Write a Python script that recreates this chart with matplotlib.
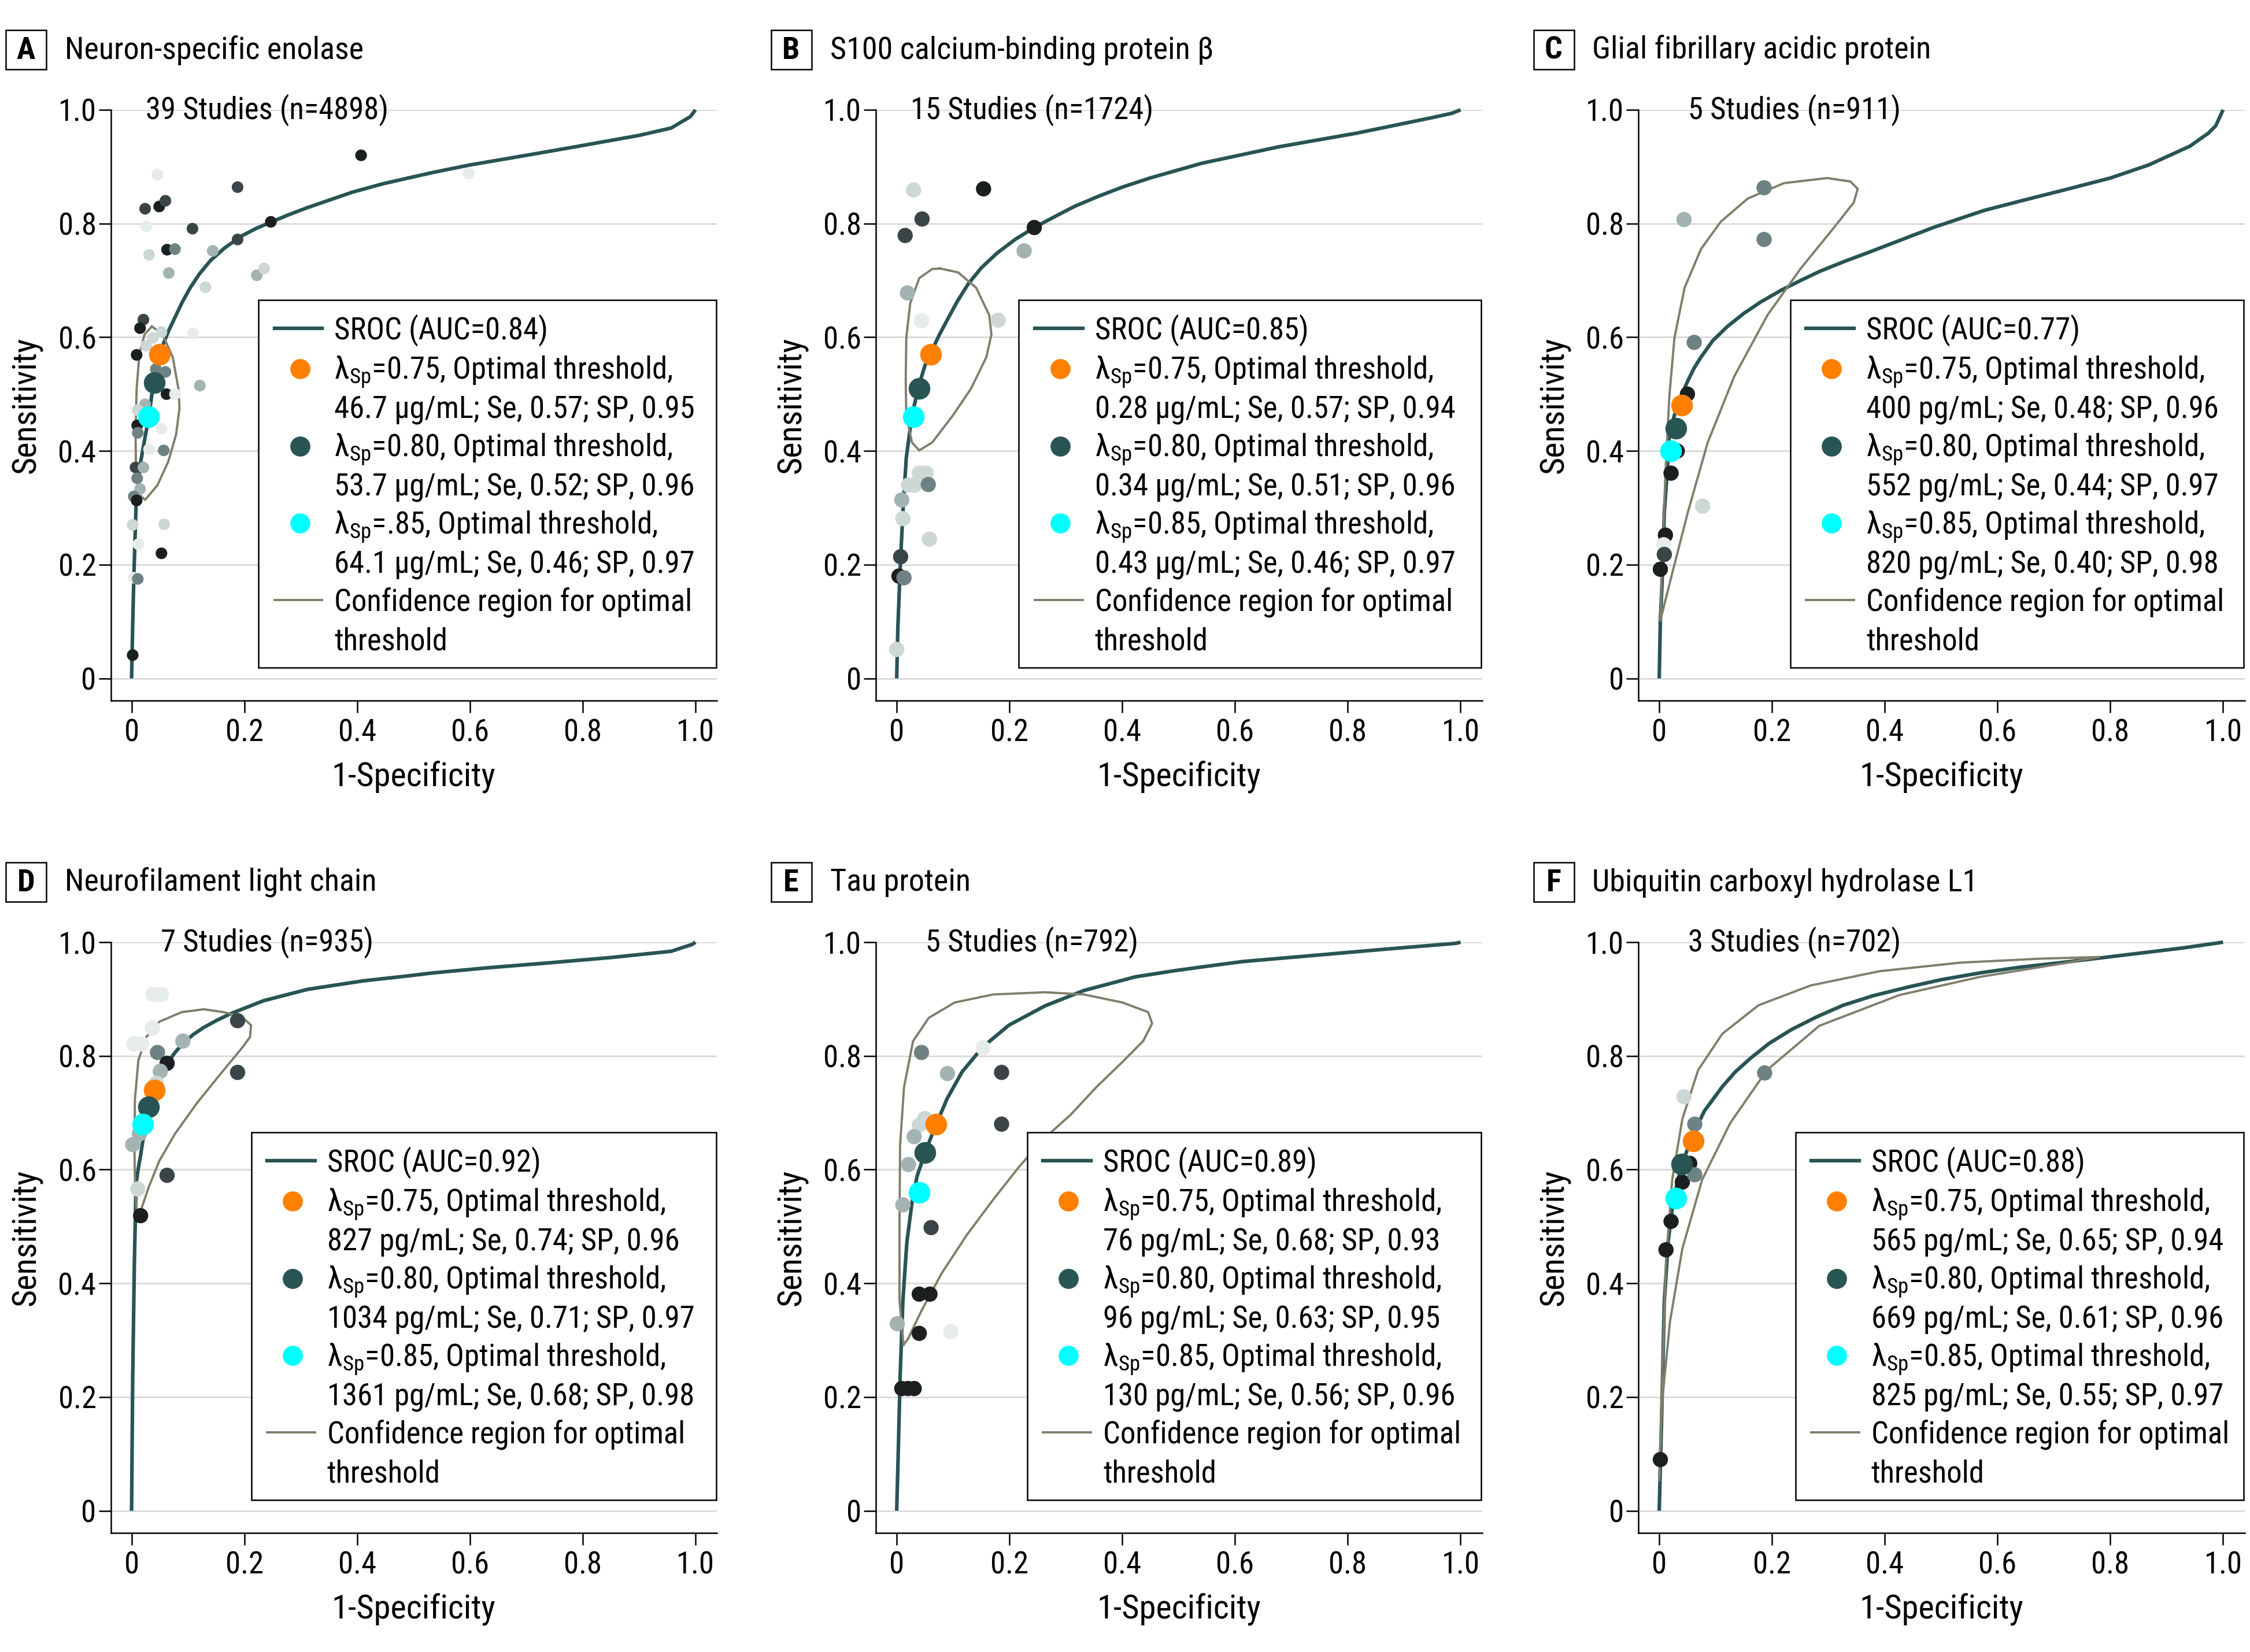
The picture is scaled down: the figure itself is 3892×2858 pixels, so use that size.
import matplotlib
matplotlib.use("Agg")
import matplotlib.pyplot as plt
from matplotlib import font_manager as fm
from matplotlib.patches import Rectangle

# ---- data ----
titles = ["Neuron-specific enolase", "S100 calcium-binding protein \u03b2",
          "Glial fibrillary acidic protein", "Neurofilament light chain",
          "Tau protein", "Ubiquitin carboxyl hydrolase L1"]
letters = ["A", "B", "C", "D", "E", "F"]
studies = ["39 Studies (n=4898)", "15 Studies (n=1724)", "5 Studies (n=911)",
           "7 Studies (n=935)", "5 Studies (n=792)", "3 Studies (n=702)"]
auc = ["0.84", "0.85", "0.77", "0.92", "0.89", "0.88"]
lam_labels = [["0.75", "0.80", ".85"]] + [["0.75", "0.80", "0.85"]] * 5
thr_labels = [
    ["46.7 \u00b5g/mL; Se, 0.57; SP, 0.95", "53.7 \u00b5g/mL; Se, 0.52; SP, 0.96", "64.1 \u00b5g/mL; Se, 0.46; SP, 0.97"],
    ["0.28 \u00b5g/mL; Se, 0.57; SP, 0.94", "0.34 \u00b5g/mL; Se, 0.51; SP, 0.96", "0.43 \u00b5g/mL; Se, 0.46; SP, 0.97"],
    ["400 pg/mL; Se, 0.48; SP, 0.96", "552 pg/mL; Se, 0.44; SP, 0.97", "820 pg/mL; Se, 0.40; SP, 0.98"],
    ["827 pg/mL; Se, 0.74; SP, 0.96", "1034 pg/mL; Se, 0.71; SP, 0.97", "1361 pg/mL; Se, 0.68; SP, 0.98"],
    ["76 pg/mL; Se, 0.68; SP, 0.93", "96 pg/mL; Se, 0.63; SP, 0.95", "130 pg/mL; Se, 0.56; SP, 0.96"],
    ["565 pg/mL; Se, 0.65; SP, 0.94", "669 pg/mL; Se, 0.61; SP, 0.96", "825 pg/mL; Se, 0.55; SP, 0.97"],
]
# optimal points (1-specificity, sensitivity) for lambda 0.75 / 0.80 / 0.85
opt_fpr = [[0.05, 0.04, 0.03], [0.06, 0.04, 0.03], [0.04, 0.03, 0.02],
           [0.04, 0.03, 0.02], [0.07, 0.05, 0.04], [0.06, 0.04, 0.03]]
opt_se = [[0.57, 0.52, 0.46], [0.57, 0.51, 0.46], [0.48, 0.44, 0.40],
          [0.74, 0.71, 0.68], [0.68, 0.63, 0.56], [0.65, 0.61, 0.55]]

# study points: x = 1-specificity, y = sensitivity, shade index 0 (dark) .. 5 (pale)
nse_x = [0.407, 0.188, 0.024, 0.049, 0.060, 0.046, 0.026, 0.108, 0.188, 0.247, 0.063, 0.077, 0.031,
         0.144, 0.066, 0.131, 0.222, 0.235, 0.021, 0.015, 0.109, 0.053, 0.038, 0.026, 0.009, 0.043,
         0.060, 0.062, 0.077, 0.121, 0.024, 0.011, 0.010, 0.011, 0.053, 0.031, 0.057, 0.007, 0.021,
         0.010, 0.015, 0.004, 0.009, 0.002, 0.058, 0.012, 0.053, 0.004, 0.011, 0.002, 0.598]
nse_y = [0.920, 0.864, 0.826, 0.830, 0.840, 0.886, 0.795, 0.791, 0.772, 0.803, 0.754, 0.755, 0.745,
         0.752, 0.713, 0.688, 0.709, 0.721, 0.631, 0.616, 0.607, 0.609, 0.599, 0.585, 0.569, 0.544,
         0.539, 0.500, 0.500, 0.515, 0.482, 0.472, 0.445, 0.432, 0.439, 0.403, 0.401, 0.371, 0.371,
         0.352, 0.333, 0.320, 0.313, 0.270, 0.271, 0.236, 0.220, 0.177, 0.175, 0.041, 0.888]
nse_c = [0, 1, 1, 0, 1, 5, 5, 1, 1, 0, 0, 2, 4, 3, 3, 4, 3, 4, 1, 0, 5, 4, 4, 4, 0, 2,
         2, 0, 5, 3, 3, 4, 0, 2, 5, 5, 2, 1, 3, 2, 3, 2, 0, 4, 4, 5, 0, 5, 2, 0, 5]

s100_x = [0.030, 0.154, 0.045, 0.015, 0.244, 0.226, 0.019, 0.044, 0.180, 0.040, 0.052, 0.021,
          0.032, 0.056, 0.009, 0.011, 0.007, 0.004, 0.013, 0.058, 0.000]
s100_y = [0.859, 0.861, 0.808, 0.779, 0.793, 0.752, 0.678, 0.629, 0.630, 0.361, 0.361, 0.340,
          0.340, 0.341, 0.314, 0.281, 0.214, 0.180, 0.177, 0.245, 0.051]
s100_c = [4, 0, 1, 1, 0, 3, 3, 5, 4, 4, 4, 4, 4, 2, 3, 4, 1, 0, 2, 4, 4]

gfap_x = [0.186, 0.044, 0.186, 0.062, 0.050, 0.032, 0.021, 0.077, 0.011, 0.008, 0.009, 0.002]
gfap_y = [0.863, 0.807, 0.772, 0.591, 0.500, 0.400, 0.361, 0.303, 0.252, 0.235, 0.218, 0.192]
gfap_c = [2, 3, 2, 2, 0, 0, 0, 4, 0, 5, 1, 0]

nfl_x = [0.038, 0.053, 0.037, 0.004, 0.018, 0.188, 0.091, 0.046, 0.063, 0.051, 0.044, 0.188,
         0.014, 0.002, 0.063, 0.011, 0.016]
nfl_y = [0.908, 0.908, 0.849, 0.821, 0.821, 0.862, 0.826, 0.806, 0.787, 0.773, 0.752, 0.771,
         0.663, 0.644, 0.590, 0.566, 0.519]
nfl_c = [5, 5, 5, 5, 5, 1, 3, 2, 0, 3, 4, 1, 3, 3, 1, 4, 0]

tau_x = [0.044, 0.153, 0.090, 0.186, 0.050, 0.040, 0.031, 0.186, 0.021, 0.011, 0.061, 0.040,
         0.059, 0.001, 0.040, 0.096, 0.009, 0.020, 0.031]
tau_y = [0.806, 0.814, 0.769, 0.771, 0.690, 0.678, 0.658, 0.680, 0.609, 0.538, 0.498, 0.381,
         0.381, 0.329, 0.312, 0.315, 0.215, 0.215, 0.215]
tau_c = [2, 5, 3, 1, 4, 4, 3, 1, 3, 3, 1, 0, 0, 3, 0, 5, 0, 0, 0]

uchl_x = [0.044, 0.063, 0.187, 0.054, 0.041, 0.063, 0.021, 0.012, 0.002]
uchl_y = [0.728, 0.680, 0.770, 0.611, 0.578, 0.591, 0.509, 0.459, 0.090]
uchl_c = [4, 2, 2, 0, 0, 2, 0, 0, 0]

# SROC curves, traced
nse_sroc_x = [0, 0.002, 0.004, 0.008, 0.016, 0.025, 0.031, 0.038, 0.049, 0.057, 0.066, 0.077, 0.090,
              0.104, 0.120, 0.140, 0.165, 0.195, 0.220, 0.246, 0.280, 0.312, 0.391, 0.446, 0.535,
              0.600, 0.700, 0.787, 0.900, 0.957, 0.991, 1.0]
nse_sroc_y = [0, 0.095, 0.177, 0.306, 0.380, 0.430, 0.462, 0.515, 0.565, 0.590, 0.612, 0.635, 0.662,
              0.687, 0.711, 0.735, 0.757, 0.778, 0.791, 0.802, 0.816, 0.828, 0.855, 0.870, 0.890,
              0.903, 0.920, 0.935, 0.955, 0.968, 0.988, 1.0]
s100_sroc_x = [0, 0.002, 0.006, 0.011, 0.017, 0.027, 0.040, 0.050, 0.063, 0.076, 0.091, 0.108,
               0.127, 0.150, 0.178, 0.210, 0.244, 0.280, 0.315, 0.358, 0.400, 0.449, 0.541, 0.678,
               0.816, 0.953, 0.985, 1.0]
s100_sroc_y = [0, 0.088, 0.190, 0.293, 0.388, 0.463, 0.517, 0.550, 0.578, 0.605, 0.633, 0.664,
               0.694, 0.722, 0.748, 0.772, 0.793, 0.812, 0.830, 0.848, 0.864, 0.880, 0.906, 0.935,
               0.959, 0.987, 0.994, 1.0]
gfap_sroc_x = [0, 0.002, 0.006, 0.009, 0.014, 0.018, 0.027, 0.039, 0.051, 0.062, 0.074, 0.095,
               0.121, 0.150, 0.180, 0.215, 0.251, 0.285, 0.330, 0.368, 0.431, 0.486, 0.576, 0.650,
               0.722, 0.800, 0.868, 0.941, 0.974, 0.987, 0.994, 1.0]
gfap_sroc_y = [0, 0.102, 0.190, 0.293, 0.361, 0.429, 0.463, 0.497, 0.524, 0.546, 0.565, 0.594,
               0.619, 0.642, 0.662, 0.682, 0.700, 0.716, 0.734, 0.748, 0.772, 0.793, 0.823, 0.842,
               0.860, 0.880, 0.903, 0.936, 0.959, 0.972, 0.987, 1.0]
nfl_sroc_x = [0, 0.002, 0.005, 0.008, 0.012, 0.016, 0.022, 0.028, 0.036, 0.046, 0.063, 0.077,
              0.093, 0.110, 0.128, 0.150, 0.175, 0.234, 0.312, 0.411, 0.484, 0.535, 0.632, 0.732,
              0.850, 0.957, 0.994, 1.0]
nfl_sroc_y = [0, 0.234, 0.438, 0.575, 0.603, 0.625, 0.664, 0.697, 0.728, 0.756, 0.786, 0.806,
              0.824, 0.838, 0.850, 0.862, 0.874, 0.897, 0.917, 0.932, 0.940, 0.946, 0.955, 0.963,
              0.973, 0.984, 0.996, 1.0]
tau_sroc_x = [0, 0.003, 0.006, 0.011, 0.018, 0.027, 0.036, 0.050, 0.066, 0.089, 0.116, 0.153,
              0.199, 0.263, 0.332, 0.423, 0.494, 0.538, 0.614, 0.743, 0.870, 0.992, 1.0]
tau_sroc_y = [0, 0.112, 0.234, 0.370, 0.472, 0.541, 0.588, 0.629, 0.670, 0.724, 0.772, 0.816,
              0.854, 0.888, 0.915, 0.939, 0.950, 0.956, 0.966, 0.977, 0.988, 0.998, 1.0]
uchl_sroc_x = [0, 0.004, 0.009, 0.016, 0.026, 0.041, 0.059, 0.080, 0.112, 0.135, 0.162, 0.195,
               0.234, 0.280, 0.326, 0.380, 0.441, 0.500, 0.569, 0.640, 0.712, 0.780, 0.855, 0.930, 1.0]
uchl_sroc_y = [0, 0.154, 0.368, 0.475, 0.553, 0.611, 0.660, 0.703, 0.746, 0.772, 0.796, 0.822,
               0.846, 0.869, 0.889, 0.906, 0.921, 0.934, 0.946, 0.956, 0.964, 0.972, 0.981, 0.990, 1.0]

# confidence regions for the optimal threshold, traced
nse_cr_x = [0.036, 0.055, 0.073, 0.083, 0.085, 0.079, 0.065, 0.046, 0.024, 0.014, 0.008, 0.007,
            0.009, 0.014, 0.023, 0.036]
nse_cr_y = [0.619, 0.605, 0.565, 0.510, 0.476, 0.429, 0.381, 0.340, 0.314, 0.323, 0.361, 0.429,
            0.510, 0.571, 0.605, 0.619]
s100_cr_x = [0.077, 0.109, 0.141, 0.164, 0.168, 0.159, 0.132, 0.100, 0.063, 0.040, 0.027, 0.017,
             0.016, 0.017, 0.024, 0.040, 0.063, 0.077]
s100_cr_y = [0.721, 0.714, 0.687, 0.639, 0.605, 0.565, 0.510, 0.463, 0.415, 0.401, 0.415, 0.463,
             0.524, 0.599, 0.660, 0.704, 0.720, 0.721]
gfap_cr_x = [0.002, 0.006, 0.011, 0.018, 0.027, 0.045, 0.074, 0.109, 0.157, 0.221, 0.298, 0.339,
             0.352, 0.345, 0.310, 0.251, 0.192, 0.133, 0.086, 0.051, 0.021, 0.002]
gfap_cr_y = [0.102, 0.224, 0.361, 0.497, 0.599, 0.687, 0.755, 0.803, 0.844, 0.871, 0.880, 0.874,
             0.861, 0.837, 0.793, 0.721, 0.639, 0.531, 0.415, 0.293, 0.177, 0.102]
nfl_cr_x = [0.010, 0.006, 0.005, 0.006, 0.012, 0.026, 0.049, 0.089, 0.128, 0.163, 0.195, 0.212,
            0.210, 0.195, 0.155, 0.116, 0.077, 0.049, 0.030, 0.016, 0.010]
nfl_cr_y = [0.513, 0.575, 0.643, 0.724, 0.792, 0.833, 0.860, 0.877, 0.882, 0.877, 0.869, 0.854,
            0.833, 0.813, 0.765, 0.717, 0.663, 0.615, 0.568, 0.527, 0.513]
tau_cr_x = [0.012, 0.005, 0.005, 0.006, 0.013, 0.029, 0.057, 0.103, 0.171, 0.263, 0.332, 0.400,
            0.446, 0.453, 0.437, 0.400, 0.354, 0.309, 0.263, 0.217, 0.171, 0.125, 0.080, 0.043,
            0.020, 0.012]
tau_cr_y = [0.292, 0.370, 0.506, 0.643, 0.745, 0.826, 0.867, 0.894, 0.908, 0.912, 0.908, 0.894,
            0.877, 0.857, 0.826, 0.789, 0.745, 0.697, 0.656, 0.605, 0.547, 0.486, 0.418, 0.350,
            0.302, 0.292]
uchl_cr_x = [0.0, 0.005, 0.012, 0.023, 0.041, 0.069, 0.112, 0.176, 0.269, 0.391, 0.534, 0.676,
             0.780, 0.712, 0.569, 0.426, 0.284, 0.191, 0.126, 0.076, 0.041, 0.019, 0.005, 0.0]
uchl_cr_y = [0.054, 0.225, 0.439, 0.582, 0.689, 0.775, 0.839, 0.889, 0.924, 0.949, 0.964, 0.971,
             0.974, 0.962, 0.939, 0.907, 0.853, 0.775, 0.682, 0.582, 0.461, 0.332, 0.190, 0.054]

pts_x = [nse_x, s100_x, gfap_x, nfl_x, tau_x, uchl_x]
pts_y = [nse_y, s100_y, gfap_y, nfl_y, tau_y, uchl_y]
pts_c = [nse_c, s100_c, gfap_c, nfl_c, tau_c, uchl_c]
sroc_x = [nse_sroc_x, s100_sroc_x, gfap_sroc_x, nfl_sroc_x, tau_sroc_x, uchl_sroc_x]
sroc_y = [nse_sroc_y, s100_sroc_y, gfap_sroc_y, nfl_sroc_y, tau_sroc_y, uchl_sroc_y]
cr_x = [nse_cr_x, s100_cr_x, gfap_cr_x, nfl_cr_x, tau_cr_x, uchl_cr_x]
cr_y = [nse_cr_y, s100_cr_y, gfap_cr_y, nfl_cr_y, tau_cr_y, uchl_cr_y]

# ---- style ----
names = {f.name for f in fm.fontManager.ttflist}
FONT = "DejaVu Sans"
for cand in ["Liberation Sans Narrow", "Roboto Condensed", "Open Sans Condensed", "Liberation Sans"]:
    if cand in names:
        FONT = cand
        break
plt.rcParams["font.family"] = [FONT, "DejaVu Sans"]

SHADES = ["#1b1f1f", "#3b4547", "#6f8283", "#a3b3b2", "#cdd7d6", "#e6ecea"]
SROC_C = "#285454"
CR_C = "#807e6c"
OPT_C = ["#ff8000", "#285454", "#00ffff"]
GRID_C = "#d9d9d9"
FS = 38

W, H = 3892, 2858
col_left = [191.5, 1515, 2834]
row_top = [190, 1630]
ax_w, ax_h = 1048.5, 1022
legend_left = [0.244, 0.236, 0.251, 0.232, 0.250, 0.259]
row_y = [0.630, 0.562, 0.496, 0.431, 0.365, 0.300, 0.234, 0.170, 0.104]
pt_size = [14.5, 19, 19, 19, 19, 19]

fig = plt.figure(figsize=(W / 100, H / 100), dpi=100)

for i in range(6):
    r, c = divmod(i, 3)
    L, T = col_left[c], row_top[r]
    ax = fig.add_axes([L / W, 1 - (T + ax_h) / H, ax_w / W, ax_h / H])
    ax.set_xlim(-0.037, 1.038)
    ax.set_ylim(-0.039, 1.0)
    for s in ["top", "right"]:
        ax.spines[s].set_visible(False)
    for s in ["left", "bottom"]:
        ax.spines[s].set_linewidth(1.8)
    ticks = [0, 0.2, 0.4, 0.6, 0.8, 1.0]
    tlabels = ["0", "0.2", "0.4", "0.6", "0.8", "1.0"]
    ax.set_xticks(ticks)
    ax.set_xticklabels(tlabels)
    ax.set_yticks(ticks)
    ax.set_yticklabels(tlabels)
    ax.tick_params(axis="both", length=15, width=1.8, labelsize=FS)
    ax.tick_params(axis="x", pad=7)
    ax.tick_params(axis="y", pad=3)
    ax.yaxis.grid(True, color=GRID_C, linewidth=2)
    ax.set_axisbelow(True)
    ax.set_xlabel("1-Specificity", fontsize=42, labelpad=16)
    ax.set_ylabel("Sensitivity", fontsize=42, labelpad=19)

    ax.plot(sroc_x[i], sroc_y[i], color=SROC_C, lw=4.5, zorder=3, clip_on=False,
            solid_capstyle="butt", solid_joinstyle="round")
    ax.plot(cr_x[i], cr_y[i], color=CR_C, lw=2.8, zorder=3, solid_joinstyle="round")
    ax.scatter(pts_x[i], pts_y[i], s=pt_size[i] ** 2, c=[SHADES[k] for k in pts_c[i]],
               linewidths=0, zorder=4)
    for k in range(3):
        ax.plot(opt_fpr[i][k], opt_se[i][k], "o", ms=27, color=OPT_C[k], mec="none", zorder=5)

    ax.text(0.24, 1.0, studies[i], fontsize=FS, ha="center", va="center", zorder=2)

    # legend drawn by hand so that the markers sit on the first line of each entry
    bl = legend_left[i]
    ax.add_patch(Rectangle((bl, 0.056), 0.999 - bl, 0.678 - 0.056, transform=ax.transAxes,
                           facecolor="white", edgecolor="black", lw=1.8, zorder=10, clip_on=False))
    labels = ["SROC (AUC=" + auc[i] + ")"]
    for k in range(3):
        labels.append("\u03bb$_\\mathregular{Sp}$=" + lam_labels[i][k] + ", Optimal threshold,")
        labels.append(thr_labels[i][k])
    labels += ["Confidence region for optimal", "threshold"]
    for j, lab in enumerate(labels):
        ax.text(bl + 0.125, row_y[j] - 0.0185, lab, transform=ax.transAxes, fontsize=FS,
                ha="left", va="baseline", zorder=11)
    ax.plot([bl + 0.026, bl + 0.105], [row_y[0]] * 2, color=SROC_C, lw=4.5,
            transform=ax.transAxes, zorder=11, clip_on=False)
    ax.plot([bl + 0.026, bl + 0.105], [row_y[7]] * 2, color=CR_C, lw=2.8,
            transform=ax.transAxes, zorder=11, clip_on=False)
    for k in range(3):
        ax.plot(bl + 0.068, row_y[1 + 2 * k], "o", ms=25, color=OPT_C[k], mec="none",
                transform=ax.transAxes, zorder=11, clip_on=False)

    # panel letter box and title
    bx, by = L - 181.5, T - 138
    fig.add_artist(Rectangle((bx / W, 1 - (by + 68) / H), 70 / W, 68 / H,
                             transform=fig.transFigure, facecolor="white",
                             edgecolor="black", lw=1.8))
    fig.text((bx + 35) / W, 1 - (by + 35) / H, letters[i], fontsize=39, fontweight="bold",
             ha="center", va="center")
    fig.text((bx + 102) / W, 1 - (by + 35) / H, titles[i], fontsize=39, ha="left", va="center")

fig.savefig("out.png", dpi=100, facecolor="white")
